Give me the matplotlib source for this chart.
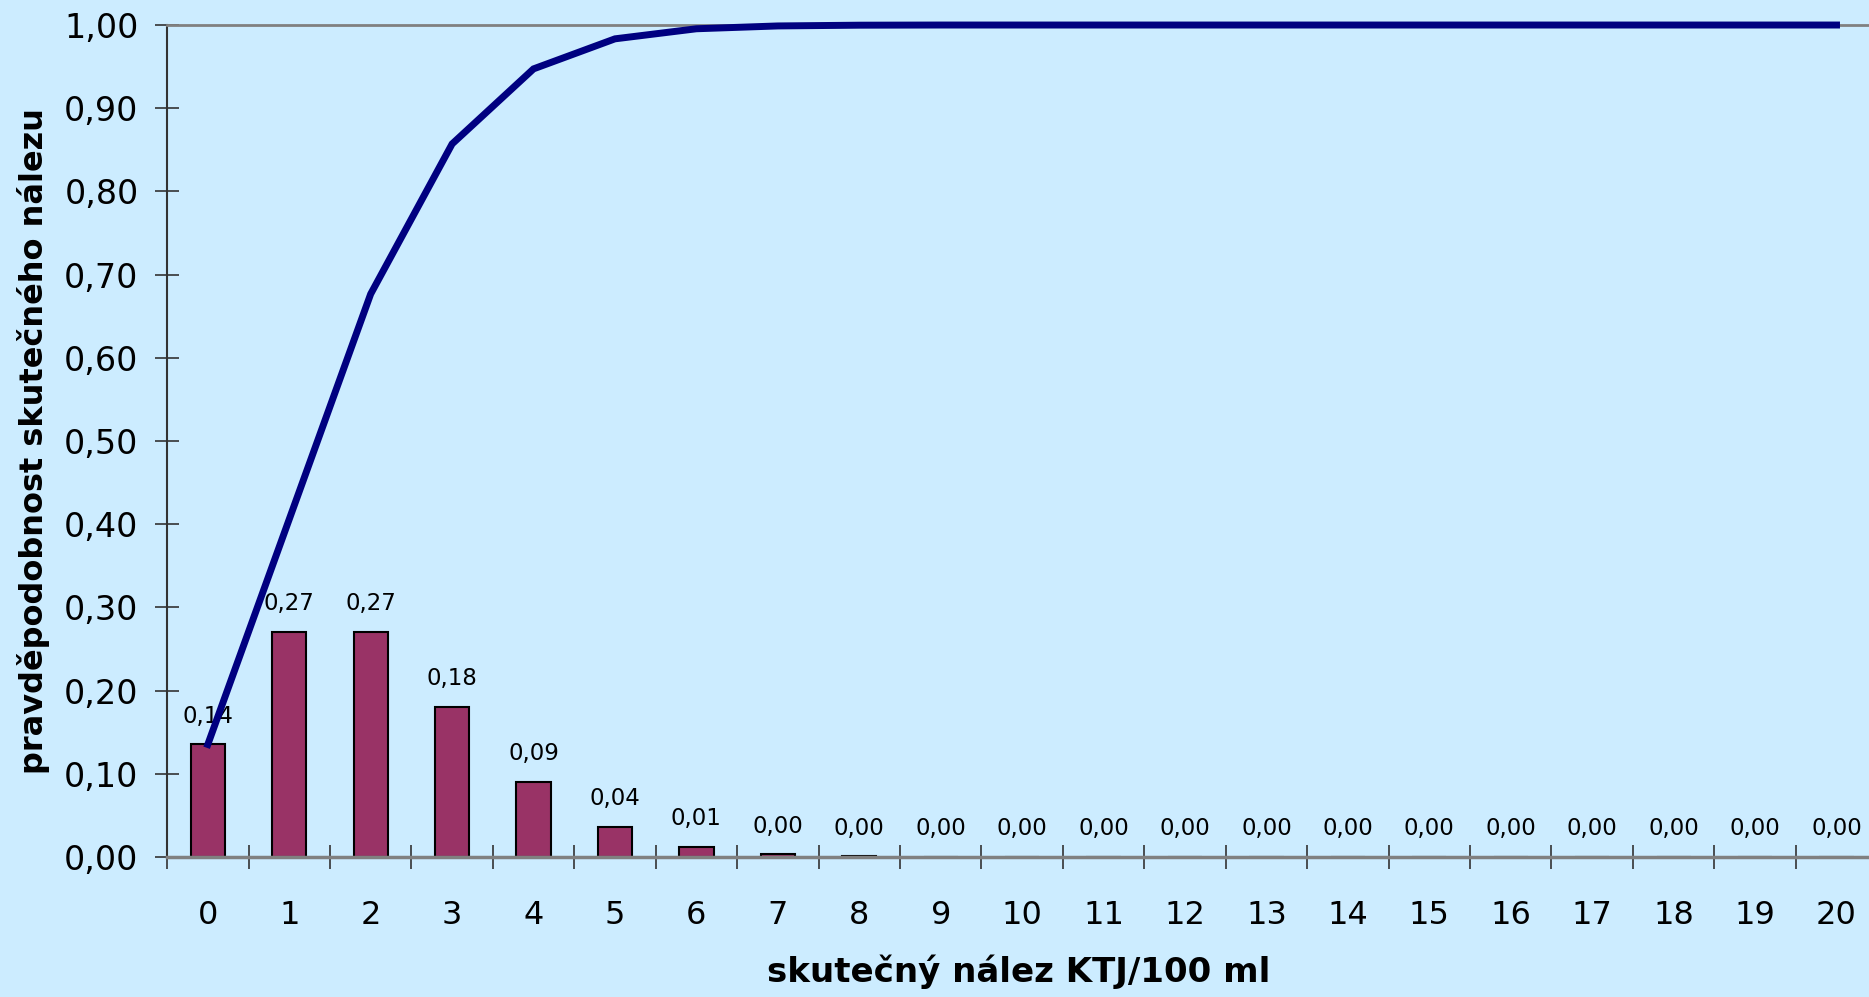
import matplotlib
matplotlib.use("Agg")
import matplotlib.pyplot as plt
import numpy as np

# Počty KTJ/100 ml a pravděpodobnosti skutečného nálezu
counts = list(range(21))
prob = [0.1353, 0.2707, 0.2707, 0.1804, 0.0902, 0.0361, 0.0120, 0.0034,
        0.0009, 0.0002, 0.00004, 0.00001, 0.0, 0.0, 0.0, 0.0, 0.0, 0.0,
        0.0, 0.0, 0.0]
cumulative = [0.1353, 0.4060, 0.6767, 0.8571, 0.9473, 0.9834, 0.9955, 0.9989,
              0.9998, 1.0000, 1.0000, 1.0000, 1.0000, 1.0000, 1.0000, 1.0000,
              1.0000, 1.0000, 1.0000, 1.0000, 1.0000]
y_ticks = [0.0, 0.1, 0.2, 0.3, 0.4, 0.5, 0.6, 0.7, 0.8, 0.9, 1.0]

x_title = "skutečný nález KTJ/100 ml"
y_title = "pravděpodobnost skutečného nálezu"

bg = "#CCECFF"
bar_color = "#993366"
line_color = "#000080"

plt.rcParams["font.family"] = ["DejaVu Sans"]

fig = plt.figure(figsize=(18.69, 9.97), dpi=100, facecolor=bg)
ax = fig.add_axes([0.0894, 0.1404, 0.915, 0.8345], facecolor=bg)

ax.bar(counts, prob, width=0.42, color=bar_color, edgecolor="black",
       linewidth=1.5, zorder=2)

for x, v in zip(counts, prob):
    ax.annotate(f"{v:.2f}".replace(".", ","), (x, v), xytext=(0, 12),
                textcoords="offset points", ha="center", va="bottom",
                fontsize=16.5, zorder=3)

ax.plot(counts, cumulative, color=line_color, linewidth=5,
        solid_joinstyle="miter", zorder=4, clip_on=False)

ax.set_xlim(-0.5, 20.5)
ax.set_ylim(0, 1.0)

ax.set_yticks(y_ticks)
ax.set_yticklabels([f"{t:.2f}".replace(".", ",") for t in y_ticks], fontsize=24)
ax.tick_params(axis="y", direction="inout", length=17, width=1.2,
               color="#333333", pad=12)

ax.set_xticks(counts)
ax.set_xticklabels([str(c) for c in counts], fontsize=23)
ax.tick_params(axis="x", which="major", length=0, pad=31)
ax.set_xticks(np.arange(-0.5, 21.0, 1.0), minor=True)
ax.tick_params(axis="x", which="minor", direction="inout", length=17,
               width=1.2, color="#333333")

ax.spines["right"].set_visible(False)
ax.spines["top"].set_color("#808080")
ax.spines["top"].set_linewidth(2)
ax.spines["bottom"].set_color("#808080")
ax.spines["bottom"].set_linewidth(2.5)
ax.spines["left"].set_color("#333333")
ax.spines["left"].set_linewidth(1.5)

fig.text(0.545, 0.008, x_title, ha="center", va="bottom", fontsize=24.5,
         fontweight="bold")
fig.text(0.018, 0.5575, y_title, ha="center", va="center", rotation=90,
         fontsize=23, fontweight="bold")

fig.savefig("out.png", dpi=100, facecolor=bg)
